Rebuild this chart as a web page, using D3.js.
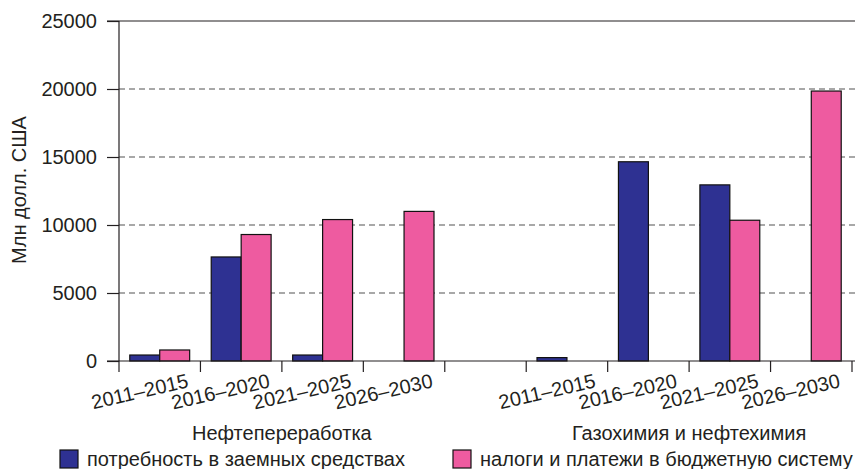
<!DOCTYPE html>
<html>
<head>
<meta charset="utf-8">
<script src="https://cdn.jsdelivr.net/npm/d3@7"></script>
<style>
  body { margin: 0; background: #fff; }
  svg text { font-family: "Liberation Sans", Arial, Helvetica, sans-serif; fill: #231f20; }
</style>
</head>
<body>
<script>
// data
var periods = [ '2011–2015', '2016–2020', '2021–2025', '2026–2030' ];
var sectors = [ 'Нефтепереработка', 'Газохимия и нефтехимия' ];
var seriesNames = [ 'потребность в заемных средствах', 'налоги и платежи в бюджетную систему' ];
var loansRefining = [ 440, 7650, 440, 0 ];
var taxesRefining = [ 810, 9300, 10400, 11000 ];
var loansChem = [ 250, 14650, 12950, 0 ];
var taxesChem = [ 0, 0, 10350, 19850 ];
var yTicks = [ 0, 5000, 10000, 15000, 20000, 25000 ];

var colors = [ '#2e3192', '#ee5ba0' ];

var width = 855, height = 469;
var margin = { top: 21, right: 3, bottom: 108, left: 119 };
var cw = width - margin.left - margin.right;
var ch = height - margin.top - margin.bottom;

// slots: 4 periods, a gap, 4 periods
var slots = [];
periods.forEach( function ( p, i ) {
	slots.push( { key: 's0-' + i, label: p, values: [ loansRefining[i], taxesRefining[i] ] } );
} );
slots.push( { key: 'gap', label: '', values: [ 0, 0 ] } );
periods.forEach( function ( p, i ) {
	slots.push( { key: 's1-' + i, label: p, values: [ loansChem[i], taxesChem[i] ] } );
} );

var svg = d3.select( 'body' ).append( 'svg' )
	.attr( 'width', width )
	.attr( 'height', height );

var g = svg.append( 'g' ).attr( 'transform', 'translate(' + margin.left + ',' + margin.top + ')' );

var x = d3.scaleBand().domain( slots.map( function ( d ) { return d.key; } ) ).range( [ 0, cw ] );
var xInner = d3.scaleBand().domain( [ 0, 1 ] ).range( [ 0, x.bandwidth() ] ).paddingInner( 0 ).paddingOuter( 0.36 );
var y = d3.scaleLinear().domain( [ 0, 25000 ] ).range( [ ch, 0 ] );

// grid
g.append( 'g' ).selectAll( 'line' )
	.data( yTicks.filter( function ( t ) { return t > 0 && t < 25000; } ) )
	.enter().append( 'line' )
	.attr( 'x1', 0 ).attr( 'x2', cw + margin.right )
	.attr( 'y1', function ( d ) { return y( d ); } )
	.attr( 'y2', function ( d ) { return y( d ); } )
	.attr( 'stroke', '#8c8c8c' )
	.attr( 'stroke-width', 1.3 )
	.attr( 'stroke-dasharray', '6,4' );

// top frame line
g.append( 'line' )
	.attr( 'x1', -12 ).attr( 'x2', cw + margin.right )
	.attr( 'y1', y( 25000 ) ).attr( 'y2', y( 25000 ) )
	.attr( 'stroke', '#231f20' ).attr( 'stroke-width', 1.2 );

// bars
var groups = g.append( 'g' ).selectAll( 'g' )
	.data( slots )
	.enter().append( 'g' )
	.attr( 'transform', function ( d ) { return 'translate(' + x( d.key ) + ',0)'; } );

groups.selectAll( 'rect' )
	.data( function ( d ) { return d.values.map( function ( v, i ) { return { i: i, v: v }; } ); } )
	.enter().filter( function ( d ) { return d.v > 0; } ).append( 'rect' )
	.attr( 'x', function ( d ) { return xInner( d.i ); } )
	.attr( 'width', xInner.bandwidth() )
	.attr( 'y', function ( d ) { return y( d.v ); } )
	.attr( 'height', function ( d ) { return y( 0 ) - y( d.v ); } )
	.attr( 'fill', function ( d ) { return colors[d.i]; } )
	.attr( 'stroke', '#111' )
	.attr( 'stroke-width', 1.2 );

// y axis
var yAxis = g.append( 'g' )
	.call( d3.axisLeft( y ).tickValues( yTicks ).tickSize( 12 ).tickPadding( 10 ).tickFormat( d3.format( 'd' ) ) );
yAxis.select( '.domain' ).attr( 'stroke', '#231f20' ).attr( 'stroke-width', 1.2 ).attr( 'd', 'M0,' + ( y( 0 ) + 11 ) + 'V' + y( 25000 ) );
yAxis.selectAll( '.tick line' ).attr( 'stroke', '#231f20' ).attr( 'stroke-width', 1.2 );
yAxis.selectAll( 'text' ).style( 'font-size', '20px' ).attr( 'fill', '#231f20' );

// x axis
var xAxisG = g.append( 'g' ).attr( 'transform', 'translate(0,' + ch + ')' );
xAxisG.append( 'line' )
	.attr( 'x1', -12 ).attr( 'x2', cw + margin.right )
	.attr( 'stroke', '#231f20' ).attr( 'stroke-width', 1.2 );
xAxisG.selectAll( 'line.tick' )
	.data( slots )
	.enter().append( 'line' )
	.attr( 'class', 'tick' )
	.attr( 'x1', function ( d ) { return x( d.key ) + x.bandwidth(); } )
	.attr( 'x2', function ( d ) { return x( d.key ) + x.bandwidth(); } )
	.attr( 'y1', 0 ).attr( 'y2', 11 )
	.attr( 'stroke', '#231f20' ).attr( 'stroke-width', 1.2 );

xAxisG.selectAll( 'text.period' )
	.data( slots.filter( function ( d ) { return d.label; } ) )
	.enter().append( 'text' )
	.attr( 'class', 'period' )
	.attr( 'text-anchor', 'end' )
	.attr( 'transform', function ( d ) {
		return 'translate(' + ( x( d.key ) + x.bandwidth() - 11 ) + ',26) rotate(-13)';
	} )
	.style( 'font-size', '20px' )
	.text( function ( d ) { return d.label; } );

// sector labels
xAxisG.selectAll( 'text.sector' )
	.data( sectors )
	.enter().append( 'text' )
	.attr( 'class', 'sector' )
	.attr( 'text-anchor', 'middle' )
	.attr( 'x', function ( d, i ) {
		var first = x( 's' + i + '-0' ), last = x( 's' + i + '-3' ) + x.bandwidth();
		return ( first + last ) / 2;
	} )
	.attr( 'y', 79 )
	.style( 'font-size', '20px' )
	.text( function ( d ) { return d; } );

// y label
svg.append( 'text' )
	.attr( 'transform', 'translate(26,190) rotate(-90)' )
	.attr( 'text-anchor', 'middle' )
	.style( 'font-size', '20px' )
	.text( 'Млн долл. США' );

// legend
var legendX = [ 60, 453 ];
var legend = svg.append( 'g' ).selectAll( 'g' )
	.data( seriesNames )
	.enter().append( 'g' )
	.attr( 'transform', function ( d, i ) { return 'translate(' + legendX[i] + ',450)'; } );
legend.append( 'rect' )
	.attr( 'width', 18 ).attr( 'height', 18 )
	.attr( 'fill', function ( d, i ) { return colors[i]; } )
	.attr( 'stroke', '#111' ).attr( 'stroke-width', 1.2 );
legend.append( 'text' )
	.attr( 'x', 27 ).attr( 'y', 16 )
	.style( 'font-size', '20px' )
	.text( function ( d ) { return d; } );
</script>
</body>
</html>
